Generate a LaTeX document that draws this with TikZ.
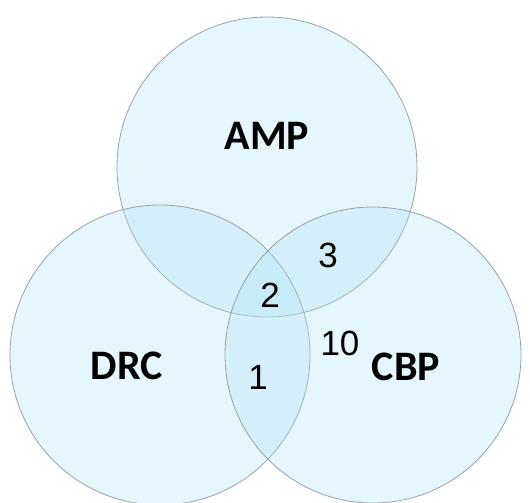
\documentclass[tikz,border=0pt]{standalone}
\usepackage{fontspec}
\setmainfont{Liberation Sans}
\newfontfamily\labfont{Carlito}
\definecolor{setfill}{RGB}{172,226,246}
\definecolor{setline}{RGB}{155,163,170}
\begin{document}
\begin{tikzpicture}[x=1pt,y=-1pt,
  setcircle/.style={circle,draw=setline,line width=0.8pt,fill=setfill,fill opacity=0.3,minimum size=#1,inner sep=0pt},
  setlabel/.style={font=\labfont\bfseries\fontsize{42}{42}\selectfont,text=black,inner sep=0pt},
  countlabel/.style={font=\fontsize{35}{35}\selectfont,text=black,inner sep=0pt}]
\useasboundingbox (0,0) rectangle (530,503);
\fill[white] (0,0) rectangle (530,503);
\node[setcircle=300pt] (amp) at (267,167) {};
\node[setcircle=300pt] (drc) at (160,355) {};
\node[setcircle=296pt] (cbp) at (373,355) {};
\node[setlabel] (tamp) at (267,136) {AMP};
\node[setlabel] (tdrc) at (127,366) {DRC};
\node[setlabel] (tcbp) at (406,367) {CBP};
\node[countlabel] (n3) at (328,255) {3};
\node[countlabel] (n2) at (270,295) {2};
\node[countlabel] (n1) at (258,377) {1};
\node[countlabel] (n10) at (340,343) {10};
\end{tikzpicture}
\end{document}
